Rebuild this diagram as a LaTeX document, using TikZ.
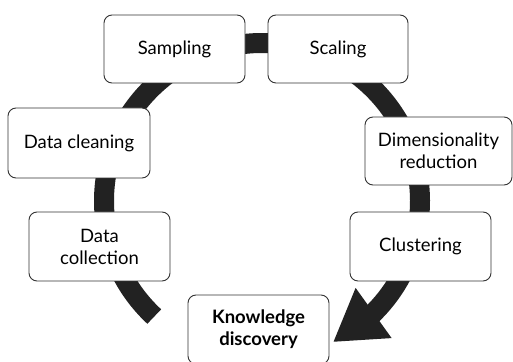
\documentclass[tikz,border=0pt]{standalone}
\usepackage{fontspec}
\setmainfont{Lato}
\usetikzlibrary{arrows.meta,bending}
\definecolor{arcc}{HTML}{222222}
\definecolor{boxc}{HTML}{333333}
\begin{document}
\begin{tikzpicture}[x=1pt,y=1pt,
  stage/.style={draw=boxc, line width=0.9pt, fill=white, rounded corners=8pt,
    minimum width=141pt, minimum height=68pt, inner sep=2pt, align=center,
    font=\fontsize{18.5}{22}\selectfont}]
\path[use as bounding box] (0,0) rectangle (513,361);
\begin{scope}
\clip (0,0) rectangle (513,361);
\draw[arcc, line width=20pt, -{Triangle[width=58pt,length=50pt,flex]}]
  (262,160) ++(227:158) arc[start angle=227, end angle=-63.3, radius=158];
\node[stage] (samp) at (174.5,312) {Sampling};
\node[stage, minimum width=140pt] (scal) at (338,312) {Scaling};
\node[stage, minimum width=142pt, minimum height=70pt] (clean) at (79,218) {Data cleaning};
\node[stage, minimum width=147pt] (dim) at (438.5,210) {Dimensionality\\reduction};
\node[stage, minimum height=69pt] (coll) at (99.5,114.5) {Data\\collection};
\node[stage, minimum height=69pt] (clus) at (420.5,114.5) {Clustering};
\node[stage, minimum height=69pt, font=\fontsize{18.5}{22}\selectfont\bfseries] (know) at (258.5,31.5) {Knowledge\\discovery};
\end{scope}
\end{tikzpicture}
\end{document}
